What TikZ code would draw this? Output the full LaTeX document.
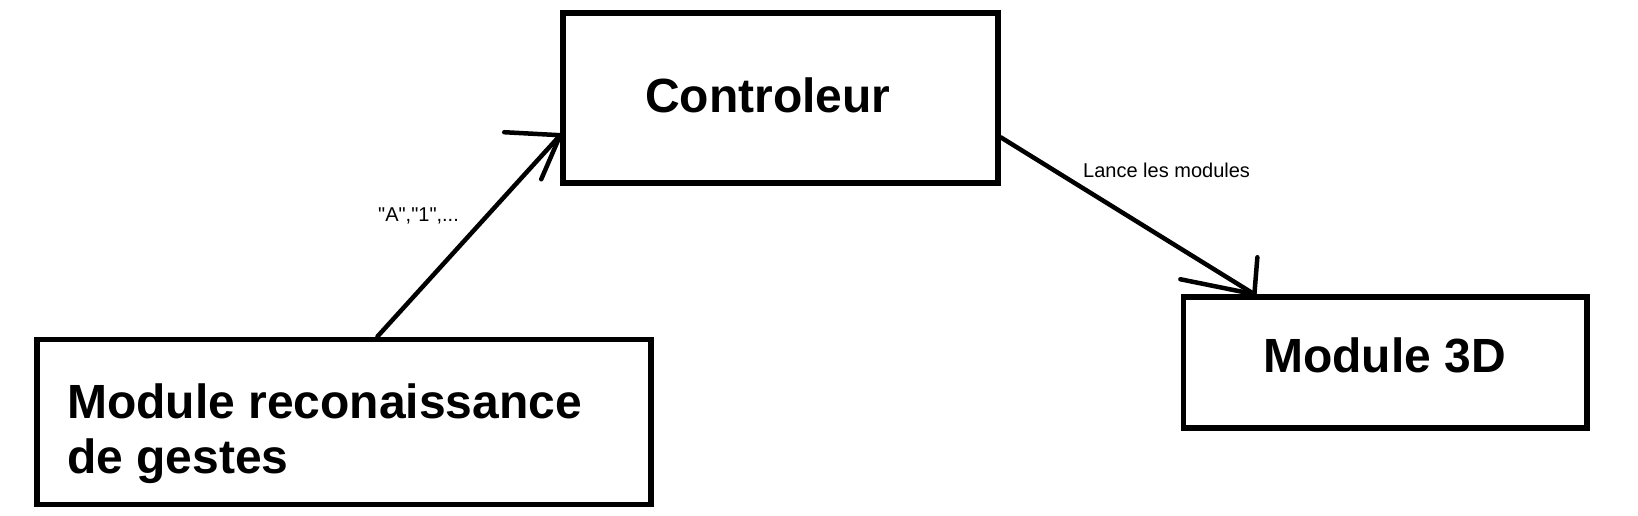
\documentclass[tikz,border=0pt]{standalone}
\usepackage{fontspec}
\setmainfont{Liberation Sans}
\newfontfamily\labfont{Liberation Sans}[Ligatures=TeXOff]
\usetikzlibrary{calc}
\begin{document}
\begin{tikzpicture}[x=1pt,y=-1pt,
  box/.style={draw=black,line width=5.5pt,rectangle,inner sep=0pt},
  big/.style={font=\fontsize{48}{55}\selectfont\bfseries,inner sep=0pt,align=left},
  small/.style={font=\labfont\fontsize{20}{24}\selectfont,inner sep=0pt},
  conn/.style={draw=black,line width=4.5pt,line cap=round}]
\useasboundingbox[fill=white] (0,0) rectangle (1638,515);
% boxes
\node[box,minimum width=435pt,minimum height=170pt] (ctrl) at (780.5,98) {};
\node[box,minimum width=614pt,minimum height=165pt] (reco) at (344,421.75) {};
\node[box,minimum width=403.5pt,minimum height=131pt] (m3d) at (1385.25,362.5) {};
% texts
\node[big,anchor=base west] (ctrltxt) at (645,112) {Controleur};
\node[big,anchor=base west] (recotxt) at (67,473) {Module reconaissance\\de gestes};
\node[big,anchor=base west] (m3dtxt) at (1263,372) {Module 3D};
% connector 1
\coordinate (a1s) at ($(reco.north west)!0.554!(reco.north east)$);
\coordinate (a1e) at ($(ctrl.north west)!0.712!(ctrl.south west)$);
\draw[conn] (a1s) -- (a1e);
\draw[conn] (a1e) -- ++(-56,-3);
\draw[conn] (a1e) -- ++(-19,44);
\node[small,anchor=base west] (lab1) at (378,221) {"A","1",...};
% connector 2
\coordinate (a2s) at ($(ctrl.north east)!0.724!(ctrl.south east)$);
\coordinate (a2e) at ($(m3d.north west)!0.18!(m3d.north east)$);
\draw[conn] (a2s) -- (a2e);
\draw[conn] (a2e) -- ++(-74,-15);
\draw[conn] (a2e) -- ++(3,-37);
\node[small,anchor=base west] (lab2) at (1083,177) {Lance les modules};
\end{tikzpicture}
\end{document}
